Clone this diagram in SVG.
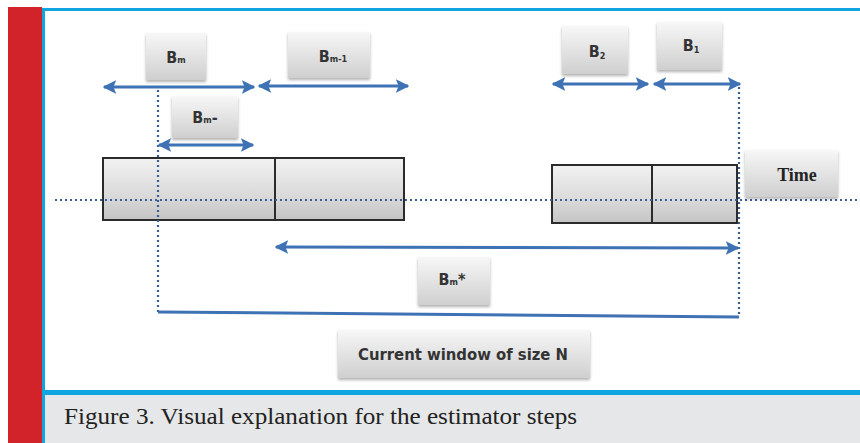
<svg xmlns="http://www.w3.org/2000/svg" width="860" height="443" viewBox="0 0 860 443">
<style>
.lbl{font-family:"DejaVu Sans Condensed","Liberation Sans",sans-serif;font-size:16px;font-weight:bold;fill:#333;text-anchor:middle}
.sub{font-size:9px}
.arr{stroke:#3e72b5;stroke-width:3;fill:none}
.dot{stroke:#3a5f95;stroke-width:2.2;stroke-dasharray:2 3;fill:none}
.blk{fill:url(#gBlk);stroke:#2b2b2b;stroke-width:2}
.box{fill:url(#gBox);filter:url(#sh)}
</style>
<defs>
<linearGradient id="gBox" x1="0" y1="0" x2="0" y2="1">
<stop offset="0" stop-color="#f7f7f7"/><stop offset="1" stop-color="#cfcfcf"/>
</linearGradient>
<linearGradient id="gBlk" x1="0" y1="0" x2="0" y2="1">
<stop offset="0" stop-color="#f2f2f2"/><stop offset="0.6" stop-color="#dadada"/><stop offset="1" stop-color="#c4c4c4"/>
</linearGradient>
<filter id="sh" x="-20%" y="-20%" width="140%" height="150%">
<feDropShadow dx="0" dy="2" stdDeviation="1.5" flood-color="#000" flood-opacity="0.3"/>
</filter>
<marker id="ah" viewBox="0 0 10 10" refX="9" refY="5" markerWidth="4.5" markerHeight="4.5" orient="auto-start-reverse" markerUnits="strokeWidth">
<path d="M0,0 L10,5 L0,10 L2,5 Z" fill="#3e72b5"/>
</marker>
</defs>

<!-- frame -->
<rect x="8" y="7" width="34" height="436" fill="#d2232a"/>
<rect x="42" y="8" width="818" height="3" fill="#0ea5e0"/>
<rect x="42" y="8" width="3" height="435" fill="#0ea5e0"/>
<rect x="45" y="395" width="815" height="48" fill="#e6e7e8"/>
<rect x="45" y="390" width="815" height="5" fill="#0ea5e0"/>
<text x="64" y="424" font-family="Liberation Serif,serif" font-size="24" fill="#222" textLength="513" lengthAdjust="spacingAndGlyphs">Figure 3. Visual explanation for the estimator steps</text>

<!-- time blocks -->
<g id="block-left">
<rect class="blk" x="103" y="158" width="301" height="62"/>
<line x1="275" y1="158" x2="275" y2="220" stroke="#2b2b2b" stroke-width="2"/>
</g>
<g id="block-right">
<rect class="blk" x="552" y="165" width="185" height="58"/>
<line x1="652" y1="165" x2="652" y2="223" stroke="#2b2b2b" stroke-width="2"/>
</g>

<!-- connectors -->
<g id="connectors">
<line class="dot" x1="55" y1="200" x2="860" y2="200"/>
<line class="dot" x1="158" y1="90" x2="158" y2="312"/>
<line class="dot" x1="739" y1="87" x2="739" y2="317"/>
<line class="arr" x1="104" y1="87" x2="254" y2="87" marker-start="url(#ah)" marker-end="url(#ah)"/>
<line class="arr" x1="259" y1="86" x2="408" y2="86" marker-start="url(#ah)" marker-end="url(#ah)"/>
<line class="arr" x1="159" y1="145" x2="253" y2="145" marker-start="url(#ah)" marker-end="url(#ah)"/>
<line class="arr" x1="553" y1="84" x2="648" y2="84" marker-start="url(#ah)" marker-end="url(#ah)"/>
<line class="arr" x1="654" y1="84" x2="740" y2="84" marker-start="url(#ah)" marker-end="url(#ah)"/>
<line class="arr" x1="276" y1="247" x2="738" y2="248" marker-start="url(#ah)" marker-end="url(#ah)"/>
<line class="arr" x1="158" y1="312" x2="739" y2="317"/>
</g>

<!-- labels -->
<g id="label-Bm"><rect class="box" x="146" y="33" width="60" height="47"/>
<text class="lbl" x="176" y="63">B<tspan class="sub">m</tspan></text></g>
<g id="label-Bm1"><rect class="box" x="288" y="32" width="82" height="46"/>
<text class="lbl" x="333" y="62">B<tspan class="sub">m-1</tspan></text></g>
<g id="label-Bmminus"><rect class="box" x="172" y="96" width="66" height="42"/>
<text class="lbl" x="205" y="123">B<tspan class="sub">m</tspan>-</text></g>
<g id="label-B2"><rect class="box" x="562" y="26" width="66" height="48"/>
<text class="lbl" x="597" y="57">B<tspan class="sub" dy="2">2</tspan></text></g>
<g id="label-B1"><rect class="box" x="657" y="22" width="65" height="48"/>
<text class="lbl" x="691" y="51">B<tspan class="sub" dy="2">1</tspan></text></g>
<g id="label-Time"><rect class="box" x="745" y="150" width="93" height="47"/>
<text x="797" y="181" font-family="Liberation Serif,serif" font-weight="bold" font-size="18" fill="#222" text-anchor="middle">Time</text></g>
<g id="label-Bmstar"><rect class="box" x="418" y="257" width="72" height="48"/>
<text class="lbl" x="452" y="285">B<tspan class="sub">m</tspan>*</text></g>
<g id="label-window"><rect class="box" x="338" y="330" width="252" height="48"/>
<text class="lbl" x="463" y="360" font-size="19" textLength="210" lengthAdjust="spacingAndGlyphs">Current window of size N</text></g>
</svg>
